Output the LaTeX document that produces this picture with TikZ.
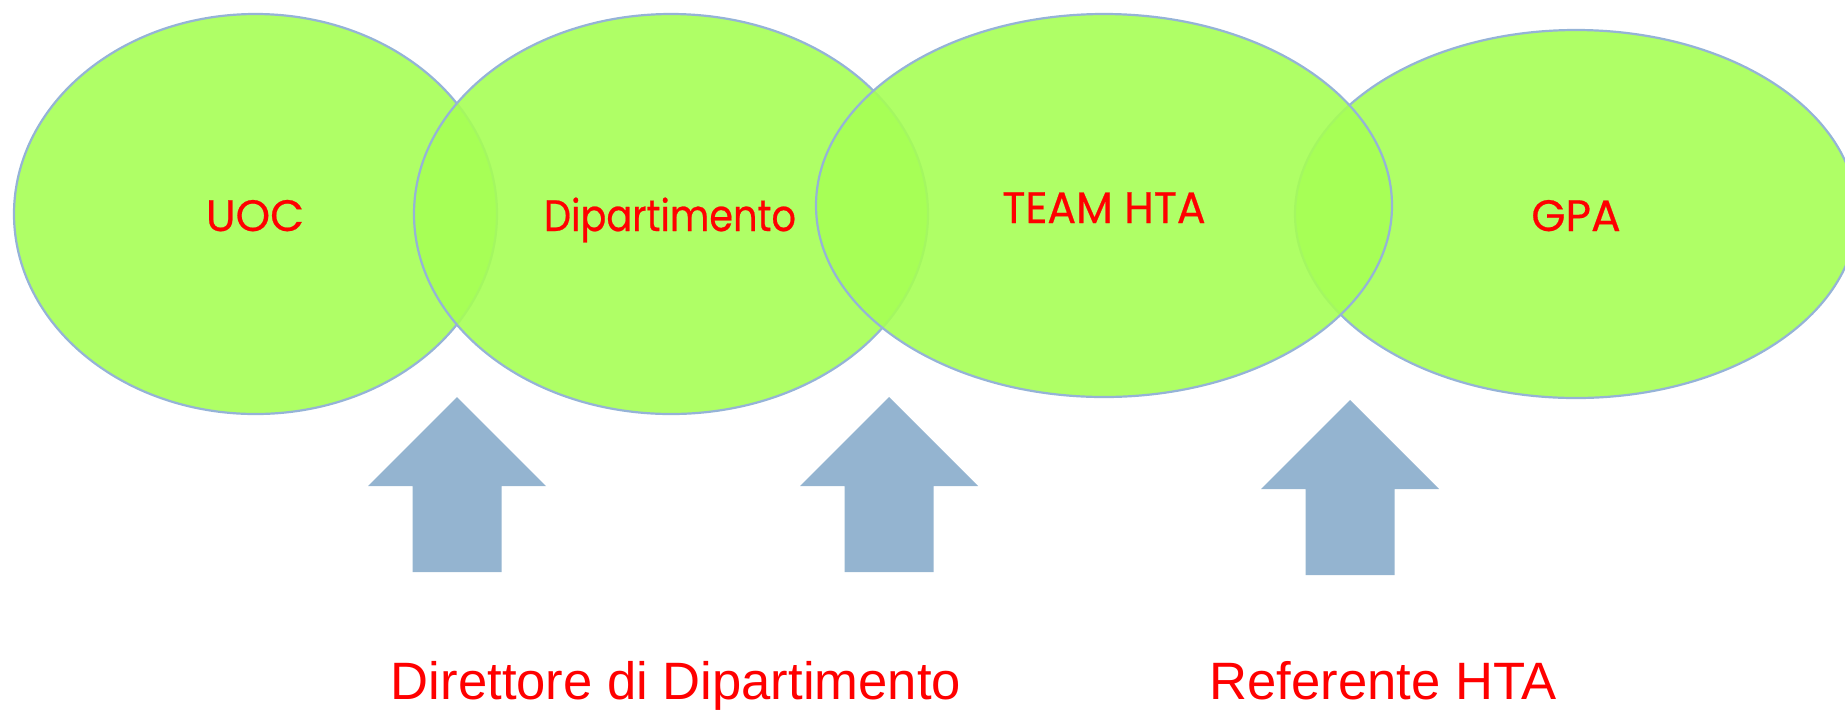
\documentclass[tikz,border=0pt]{standalone}
\usepackage{fontspec}
\setmainfont{Liberation Sans}
\newfontfamily\bubblefont[FakeBold=0.5]{Poppins}
\usetikzlibrary{shapes.geometric}
\definecolor{bubblefill}{RGB}{166,255,85}
\definecolor{bubbleline}{RGB}{149,179,215}
\definecolor{arrowfill}{RGB}{148,180,208}
\definecolor{txtred}{RGB}{255,0,0}
\tikzset{
  bubble/.style={ellipse, draw=bubbleline, line width=1.1pt, fill=bubblefill, fill opacity=0.9, inner sep=0pt},
  bubblelabel/.style={anchor=base, text=txtred, inner sep=0pt, font=\bubblefont\fontsize{22pt}{24pt}\selectfont},
  rolelabel/.style={anchor=base, text=txtred, inner sep=0pt, font=\fontsize{26.3pt}{30pt}\selectfont},
  uparrow/.pic={\fill[arrowfill] (0,0) -- (89,89) -- (44.5,89) -- (44.5,175) -- (-44.5,175) -- (-44.5,89) -- (-89,89) -- cycle;}
}
\begin{document}
\begin{tikzpicture}[x=0.5pt,y=-0.5pt]
\useasboundingbox (0,0) rectangle (1845,709);
% ellipses
\node[bubble, minimum width=241.5pt, minimum height=200pt] (uoc) at (255.5,214) {};
\node[bubble, minimum width=257pt, minimum height=200pt] (dip) at (671,214) {};
\node[bubble, minimum width=281pt, minimum height=184pt] (gpa) at (1576,214) {};
\node[bubble, minimum width=288pt, minimum height=191.5pt] (team) at (1104,205.5) {};
% labels
\node[bubblelabel] (tuoc) at (255,231) {UOC};
\node[bubblelabel] (tdip) at (670,231) {\scalebox{0.87}[1]{Dipartimento}};
\node[bubblelabel] (tteam) at (1104,223) {\scalebox{0.97}[1]{TEAM HTA}};
\node[bubblelabel] (tgpa) at (1576,231) {GPA};
% arrows
\pic at (457,397) {uparrow};
\pic at (889,397) {uparrow};
\pic at (1350,400) {uparrow};
% role labels
\node[rolelabel] (dir) at (676,699) {Direttore di Dipartimento};
\node[rolelabel] (ref) at (1383,699) {Referente HTA};
\end{tikzpicture}
\end{document}
